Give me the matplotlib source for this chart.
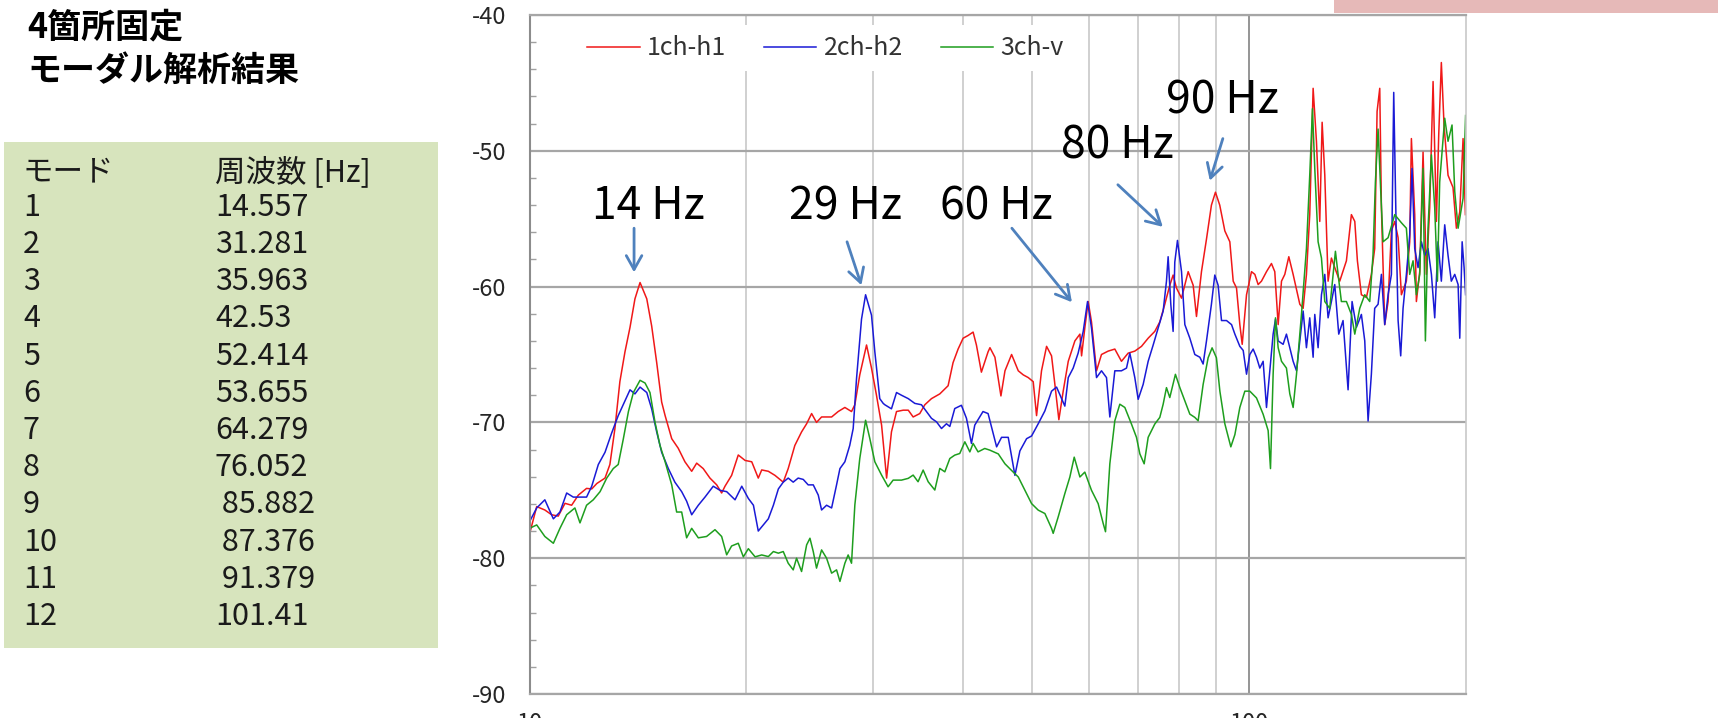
import matplotlib
matplotlib.use('Agg')
import matplotlib.pyplot as plt
from matplotlib.patches import Rectangle
from matplotlib.ticker import FixedLocator, NullFormatter, MultipleLocator

plt.rcParams['font.family'] = ['Noto Sans CJK JP', 'DejaVu Sans']
plt.rcParams['axes.unicode_minus'] = False

W, H = 1718, 718

# ---- left panel text ----
title_lines = ['4箇所固定', 'モーダル解析結果']
table_header = ['モード', '周波数 [Hz]']
mode_numbers = ['1', '2', '3', '4', '5', '6', '7', '8', '9', '10', '11', '12']
mode_freqs = ['14.557', '31.281', '35.963', '42.53', '52.414', '53.655',
              '64.279', '76.052', ' 85.882', ' 87.376', ' 91.379', '101.41']

# ---- spectra (Hz, dB) ----
red_points = [
    (10.00, -78.2), (10.23, -76.2), (10.50, -76.45), (10.73, -76.8), (10.96, -76.9),
    (11.20, -75.96), (11.44, -76.1), (11.69, -75.35), (12.00, -74.86), (12.20, -74.9),
    (12.40, -74.5), (12.73, -74.1), (12.93, -73.1), (13.14, -70.45), (13.35, -67.0),
    (13.57, -64.8), (13.79, -63.0), (14.01, -60.9), (14.24, -59.7), (14.55, -60.9),
    (14.78, -62.9), (15.02, -65.6), (15.26, -68.5), (15.43, -69.5), (15.76, -71.2),
    (16.09, -71.9), (16.44, -72.9), (16.80, -73.6), (17.07, -73.0), (17.43, -73.4),
    (17.81, -74.1), (18.20, -74.6), (18.49, -75.2), (18.69, -74.7), (19.09, -73.9),
    (19.50, -72.4), (19.93, -72.8), (20.36, -72.9), (20.79, -74.1), (21.02, -73.5),
    (21.47, -73.6), (21.93, -73.9), (22.52, -74.4), (22.88, -73.4), (23.37, -71.7),
    (23.88, -70.7), (24.27, -70.1), (24.66, -69.35), (25.05, -70.0), (25.46, -69.6),
    (26.29, -69.6), (26.85, -69.2), (27.43, -68.9), (28.02, -69.2), (28.32, -68.7),
    (28.77, -66.5), (29.40, -64.3), (29.87, -66.0), (30.35, -68.0), (30.85, -70.2),
    (31.35, -74.1), (31.84, -70.7), (32.36, -69.2), (33.06, -69.1), (33.60, -69.1),
    (34.13, -69.6), (34.86, -69.35), (35.43, -68.7), (36.19, -68.25), (37.17, -67.9),
    (38.17, -67.3), (38.78, -65.6), (39.41, -64.6), (40.05, -63.8), (40.69, -63.6),
    (41.35, -63.35), (41.79, -64.3), (42.46, -66.3), (43.38, -64.8), (43.64, -64.5),
    (44.34, -65.2), (45.20, -68.05), (45.79, -66.2), (46.77, -65.0), (47.78, -66.2),
    (48.55, -66.5), (49.33, -66.7), (50.12, -67.0), (50.66, -69.5), (51.47, -66.2),
    (52.31, -64.4), (53.15, -65.1), (53.72, -67.2), (54.41, -69.8), (55.17, -67.7),
    (56.07, -65.5), (57.27, -64.0), (58.20, -63.5), (58.51, -65.1), (59.12, -63.05),
    (59.76, -61.1), (60.40, -62.6), (61.38, -66.2), (62.36, -65.0), (63.71, -64.75),
    (65.08, -64.6), (66.48, -65.5), (67.92, -64.9), (69.38, -64.75), (70.88, -64.4),
    (72.41, -63.8), (73.96, -63.3), (75.16, -62.6), (76.37, -61.3), (77.60, -59.9),
    (78.43, -59.15), (79.27, -60.1), (80.57, -60.85), (82.30, -58.9), (83.63, -59.9),
    (84.52, -62.2), (85.88, -58.9), (87.27, -56.5), (88.66, -54.0), (89.81, -53.05),
    (91.05, -54.0), (92.55, -55.9), (94.04, -56.7), (95.06, -59.6), (96.07, -60.1),
    (97.10, -62.8), (97.84, -64.25), (99.20, -60.6), (100.79, -58.9), (101.88, -59.1),
    (102.96, -59.85), (104.06, -59.6), (105.75, -58.9), (107.44, -58.3), (108.59, -58.9),
    (109.77, -62.8), (110.95, -59.6), (112.13, -59.1), (113.58, -57.8), (115.16, -59.1),
    (117.65, -61.3), (118.91, -61.6), (120.17, -59.1), (121.45, -54.7), (122.77, -45.4),
    (124.08, -49.3), (125.41, -55.2), (126.36, -47.9), (127.44, -51.8), (128.79, -59.6),
    (130.17, -57.9), (131.57, -58.6), (133.68, -59.6), (136.57, -58.1), (138.77, -54.7),
    (140.28, -55.2), (141.46, -58.1), (143.28, -60.6), (145.60, -60.8), (147.93, -59.1),
    (149.51, -57.2), (150.66, -47.1), (151.95, -45.4), (152.76, -54.2), (154.39, -62.8),
    (156.06, -61.1), (157.73, -55.9), (159.41, -55.2), (161.14, -56.4), (162.85, -60.6),
    (165.46, -59.6), (167.24, -56.7), (168.14, -49.1), (169.95, -54.7), (170.85, -61.1),
    (172.69, -58.9), (174.54, -50.1), (176.40, -59.1), (178.29, -54.2), (180.23, -44.9),
    (182.16, -55.2), (183.51, -48.85), (185.06, -43.5), (186.66, -48.1), (189.07, -51.8),
    (192.10, -52.7), (194.19, -55.7), (196.30, -54.5), (198.39, -49.1), (199.89, -54.7),
]

blue_points = [
    (10.00, -77.3), (10.23, -76.3), (10.50, -75.7), (10.79, -77.1), (11.02, -76.6),
    (11.26, -75.2), (11.50, -75.5), (11.75, -75.5), (12.00, -75.5), (12.20, -74.7),
    (12.46, -73.1), (12.73, -72.2), (13.00, -70.8), (13.28, -69.5), (13.57, -68.4),
    (13.79, -67.6), (14.01, -67.9), (14.24, -67.4), (14.55, -67.8), (14.78, -69.0),
    (15.02, -70.7), (15.26, -72.2), (15.59, -73.4), (15.92, -74.4), (16.27, -75.1),
    (16.53, -75.8), (16.80, -76.8), (17.16, -76.1), (17.53, -75.5), (18.00, -74.7),
    (18.39, -75.0), (18.79, -75.1), (19.30, -75.7), (19.72, -74.7), (20.14, -75.6),
    (20.47, -76.1), (20.79, -78.0), (21.13, -77.55), (21.47, -77.1), (21.82, -76.1),
    (22.17, -74.9), (22.52, -74.4), (22.88, -74.1), (23.25, -74.4), (23.62, -74.1),
    (24.01, -74.2), (24.39, -74.6), (24.79, -74.6), (25.19, -75.35), (25.46, -76.45),
    (25.87, -76.1), (26.29, -76.3), (26.71, -74.6), (27.00, -73.4), (27.43, -72.9),
    (27.86, -71.7), (28.17, -70.45), (28.47, -66.8), (28.93, -62.4), (29.31, -60.6),
    (29.87, -62.1), (30.19, -64.8), (30.67, -68.25), (31.01, -68.6), (31.17, -68.7),
    (31.84, -69.0), (32.36, -67.8), (32.88, -68.0), (33.60, -68.25), (34.31, -68.6),
    (35.05, -68.7), (35.62, -69.2), (36.19, -69.7), (36.78, -69.96), (37.37, -70.45),
    (37.97, -70.1), (38.38, -70.3), (38.99, -68.98), (39.83, -68.74), (40.48, -69.7),
    (41.13, -71.55), (41.57, -70.2), (42.68, -69.2), (43.38, -69.35), (44.58, -71.8),
    (45.29, -71.1), (46.27, -71.1), (47.27, -73.9), (48.03, -72.1), (49.07, -71.2),
    (49.86, -71.0), (50.93, -70.1), (52.03, -69.15), (53.15, -67.7), (54.01, -67.4),
    (55.46, -68.8), (56.07, -66.7), (56.96, -66.0), (57.87, -64.9), (58.82, -63.3),
    (59.64, -61.1), (60.40, -63.05), (61.38, -66.7), (62.36, -66.2), (63.37, -66.7),
    (64.05, -69.6), (65.08, -66.2), (66.48, -66.2), (67.56, -66.0), (68.28, -64.9),
    (69.38, -66.7), (70.13, -68.3), (71.26, -67.2), (72.41, -65.5), (73.58, -64.3),
    (74.77, -63.05), (75.97, -61.8), (76.78, -59.6), (77.19, -57.8), (77.85, -61.3),
    (78.43, -63.3), (78.85, -58.2), (79.53, -56.6), (80.57, -58.9), (81.43, -62.8),
    (82.74, -63.8), (84.07, -65.0), (85.43, -65.2), (86.34, -65.7), (87.27, -64.0),
    (88.66, -61.3), (89.62, -59.15), (90.58, -59.9), (91.57, -62.5), (93.05, -62.5),
    (94.56, -62.8), (95.57, -63.5), (97.10, -64.4), (98.15, -64.7), (99.20, -66.45),
    (100.25, -65.0), (101.33, -64.6), (102.42, -65.2), (103.51, -66.0), (104.62, -65.5),
    (105.75, -68.9), (106.88, -66.2), (108.02, -63.5), (108.84, -62.4), (109.77, -64.0),
    (111.53, -64.25), (112.72, -63.5), (113.94, -64.5), (115.16, -65.5), (116.41, -66.2),
    (117.65, -64.0), (118.91, -61.8), (120.17, -64.5), (121.45, -62.3), (122.77, -65.2),
    (123.42, -62.05), (124.74, -64.5), (126.09, -60.6), (127.44, -59.1), (128.79, -62.3),
    (130.17, -61.1), (131.57, -59.85), (133.26, -63.5), (135.11, -62.5), (137.30, -67.6),
    (139.07, -61.1), (141.02, -63.0), (143.28, -62.05), (144.83, -64.0), (146.38, -69.9),
    (147.93, -66.45), (149.51, -61.6), (151.14, -61.3), (152.76, -59.1), (154.39, -62.8),
    (156.06, -60.6), (157.73, -59.1), (158.90, -45.7), (160.27, -56.7), (161.14, -62.5),
    (162.49, -65.1), (163.72, -61.6), (165.46, -59.1), (167.24, -56.2), (168.49, -51.3),
    (169.95, -57.2), (171.77, -58.6), (173.62, -56.7), (175.48, -57.7), (177.34, -57.2),
    (179.27, -59.1), (181.18, -62.3), (183.13, -56.7), (185.06, -59.6), (187.07, -55.45),
    (189.07, -57.7), (191.06, -59.6), (193.17, -59.1), (195.26, -59.85), (196.30, -63.8),
    (197.80, -56.7), (199.04, -58.6), (200.00, -60.6),
]

green_points = [
    (10.00, -77.8), (10.23, -77.55), (10.50, -78.4), (10.79, -78.9), (11.02, -77.8),
    (11.26, -76.8), (11.56, -76.3), (11.75, -77.4), (12.00, -76.1), (12.26, -75.7),
    (12.53, -75.1), (12.80, -74.1), (13.07, -73.4), (13.28, -73.1), (13.50, -71.2),
    (13.72, -69.2), (13.94, -67.8), (14.24, -66.9), (14.47, -67.1), (14.70, -67.8),
    (14.94, -70.0), (15.18, -71.7), (15.43, -72.9), (15.76, -74.6), (16.01, -76.6),
    (16.27, -76.6), (16.53, -78.5), (16.80, -77.8), (17.16, -78.5), (17.62, -78.4),
    (18.10, -77.9), (18.49, -78.4), (18.79, -79.75), (19.09, -79.1), (19.50, -78.9),
    (19.82, -79.9), (20.14, -79.3), (20.58, -79.9), (21.02, -79.76), (21.47, -79.88),
    (21.82, -79.51), (22.17, -79.63), (22.52, -79.51), (22.88, -80.37), (23.25, -80.86),
    (23.50, -80.0), (23.88, -80.98), (24.27, -79.02), (24.53, -78.53), (24.79, -79.51),
    (25.05, -80.73), (25.46, -79.39), (25.87, -80.0), (26.29, -81.1), (26.71, -80.86),
    (27.00, -81.71), (27.43, -80.37), (27.72, -79.76), (28.02, -80.37), (28.32, -76.08),
    (28.77, -72.66), (29.31, -69.84), (29.71, -71.19), (30.19, -72.9), (30.85, -73.88),
    (31.50, -74.74), (32.01, -74.25), (32.88, -74.25), (33.60, -74.12), (34.13, -73.88),
    (34.67, -74.37), (35.24, -73.51), (35.81, -74.37), (36.58, -74.98), (37.17, -73.39),
    (37.77, -73.64), (38.38, -72.66), (38.99, -72.41), (39.62, -72.29), (40.27, -71.43),
    (40.92, -72.17), (41.35, -71.55), (42.01, -72.17), (42.92, -71.92), (43.61, -72.04),
    (44.82, -72.32), (45.79, -73.05), (46.77, -73.54), (47.78, -74.02), (48.81, -75.0),
    (49.86, -75.98), (50.93, -76.46), (52.03, -76.71), (53.15, -77.8), (53.43, -78.17),
    (54.30, -76.95), (55.46, -75.24), (56.36, -74.02), (57.15, -72.56), (58.20, -74.02),
    (59.12, -73.66), (60.40, -75.0), (61.70, -75.98), (62.70, -77.44), (63.17, -78.05),
    (64.05, -73.05), (65.08, -69.88), (66.13, -68.66), (67.20, -68.9), (68.64, -70.12),
    (69.75, -71.1), (70.51, -72.32), (71.49, -73.05), (72.41, -71.1), (73.96, -70.12),
    (75.16, -69.63), (75.97, -68.66), (76.78, -67.44), (77.60, -68.17), (79.01, -66.46),
    (80.14, -67.44), (81.43, -68.41), (82.74, -69.39), (84.07, -69.63), (84.97, -69.88),
    (86.34, -67.2), (87.73, -65.24), (88.85, -64.51), (90.09, -65.24), (91.09, -67.7),
    (92.55, -70.1), (94.34, -71.8), (95.57, -70.9), (97.10, -68.9), (98.67, -67.7),
    (100.25, -67.7), (102.42, -68.2), (104.62, -69.4), (106.31, -70.6), (107.11, -73.4),
    (108.02, -66.45), (108.84, -62.3), (109.77, -64.5), (110.95, -65.5), (112.72, -66.0),
    (113.94, -67.9), (115.16, -68.9), (116.41, -66.45), (118.27, -62.05), (120.17, -57.2),
    (121.45, -51.8), (122.51, -46.9), (123.42, -51.3), (124.74, -56.7), (126.09, -57.9),
    (127.44, -61.1), (129.48, -61.6), (130.88, -59.1), (131.85, -57.4), (132.98, -59.1),
    (134.39, -61.1), (136.57, -61.1), (138.77, -62.05), (140.28, -63.5), (142.53, -61.6),
    (144.83, -60.6), (147.16, -61.1), (148.72, -57.65), (149.85, -52.3), (151.14, -48.4),
    (152.44, -53.0), (153.57, -56.7), (156.06, -56.4), (159.41, -54.7), (162.85, -55.3),
    (165.46, -55.7), (167.24, -59.1), (169.04, -58.1), (170.85, -60.6), (172.69, -59.1),
    (174.54, -51.3), (175.85, -64.0), (177.34, -55.7), (179.27, -50.3), (181.18, -54.2),
    (182.75, -59.6), (184.08, -52.3), (187.07, -47.6), (189.07, -49.3), (191.50, -48.1),
    (193.17, -53.0), (195.26, -55.7), (198.39, -53.5), (200.00, -47.4),
]

series_names = ['1ch-h1', '2ch-h2', '3ch-v']
series_points = [red_points, blue_points, green_points]
series_colors = ['#f01818', '#1a1ad6', '#1e9e1e']

x_ticks = [10, 100]
x_tick_labels = ['10', '100']
x_minor_grid = [20, 30, 40, 50, 60, 70, 80, 90]
y_ticks = [-90, -80, -70, -60, -50, -40]

peak_labels = ['14 Hz', '29 Hz', '60 Hz', '80 Hz', '90 Hz']
peak_label_at = [(14.61, -54.1), (27.44, -54.1), (44.48, -54.1), (65.51, -49.6), (91.96, -46.3)]
arrow_from = [(13.97, -55.7), (27.62, -56.7), (46.81, -55.7), (65.72, -52.5), (91.96, -49.1)]
arrow_to = [(13.97, -58.95), (28.92, -59.9), (56.73, -61.15), (75.89, -55.6), (88.21, -52.2)]


def fx(px):
    return px / W


def fy(py):
    return 1 - py / H


fig = plt.figure(figsize=(W / 100, H / 100), dpi=100)
fig.patch.set_facecolor('white')

# pink strip top right and green table box
fig.add_artist(Rectangle((fx(1334), fy(13)), fx(W - 1334), 13 / H,
                         transform=fig.transFigure, facecolor='#e6b9b8', edgecolor='none'))
fig.add_artist(Rectangle((fx(4), fy(648)), fx(434), 506 / H,
                         transform=fig.transFigure, facecolor='#d7e4bd', edgecolor='none'))

fig.text(fx(27), fy(27), title_lines[0], fontsize=24.5, fontweight='bold', va='center', ha='left')
fig.text(fx(27), fy(70), title_lines[1], fontsize=24.5, fontweight='bold', va='center', ha='left')

fig.text(fx(23), fy(172), table_header[0], fontsize=22, va='center', color='#1a1a1a')
fig.text(fx(215), fy(172), table_header[1], fontsize=22, va='center', color='#1a1a1a')
for i, (num, freq) in enumerate(zip(mode_numbers, mode_freqs)):
    y = 207.3 + i * 37.2
    fig.text(fx(23), fy(y), num, fontsize=22, va='center', color='#1a1a1a')
    fig.text(fx(215), fy(y), freq, fontsize=22, va='center', color='#1a1a1a')

# chart
ax = fig.add_axes([fx(529.6), fy(694), fx(936), 679 / H])
ax.set_xscale('log')

for name, pts, col in zip(series_names, series_points, series_colors):
    xs = [p[0] for p in pts]
    ys = [p[1] for p in pts]
    ax.plot(xs, ys, color=col, lw=1.1, label=name)

ax.set_xlim(10, 200)
ax.set_ylim(-90, -40)

ax.set_xticks(x_ticks)
ax.set_xticklabels(x_tick_labels)
ax.xaxis.set_minor_locator(FixedLocator(x_minor_grid))
ax.xaxis.set_minor_formatter(NullFormatter())
ax.tick_params(axis='x', which='both', length=0, pad=13, labelsize=17, labelcolor='#262626')

ax.set_yticks(y_ticks)
ax.set_yticklabels([str(v) for v in y_ticks])
ax.yaxis.set_minor_locator(MultipleLocator(2))
ax.tick_params(axis='y', which='major', length=0, pad=17, labelsize=17, labelcolor='#262626')
ax.tick_params(axis='y', which='minor', direction='in', length=4, width=1, color='#a0a0a0')

ax.grid(axis='y', which='major', color='#a6a6a6', lw=1.6)
ax.grid(axis='x', which='minor', color='#c4c4c4', lw=1.1)
ax.grid(axis='x', which='major', color='#8c8c8c', lw=1.3)
ax.set_axisbelow(True)

for side in ['top', 'bottom']:
    ax.spines[side].set_color('#a6a6a6')
    ax.spines[side].set_linewidth(1.6)
ax.spines['left'].set_color('#8c8c8c')
ax.spines['left'].set_linewidth(1.5)
ax.spines['right'].set_color('#c8c8c8')
ax.spines['right'].set_linewidth(1.2)

for label, pos, a0, a1 in zip(peak_labels, peak_label_at, arrow_from, arrow_to):
    ax.text(pos[0], pos[1], label, fontsize=32, ha='center', va='center', color='black')
    ax.annotate('', xy=a1, xytext=a0,
                arrowprops=dict(arrowstyle='->,head_length=0.5,head_width=0.28',
                                color='#4f81bd', lw=2, shrinkA=0, shrinkB=0,
                                mutation_scale=20))

leg = ax.legend(loc='center', bbox_to_anchor=(0.316, 0.951), ncol=3, fontsize=18,
                handlelength=2.1, handletextpad=0.3, columnspacing=1.5,
                borderaxespad=0, fancybox=False, framealpha=1)
leg.get_frame().set_edgecolor('none')
leg.get_frame().set_facecolor('white')
for t in leg.get_texts():
    t.set_color('#333333')

fig.savefig('out.png', dpi=100)
